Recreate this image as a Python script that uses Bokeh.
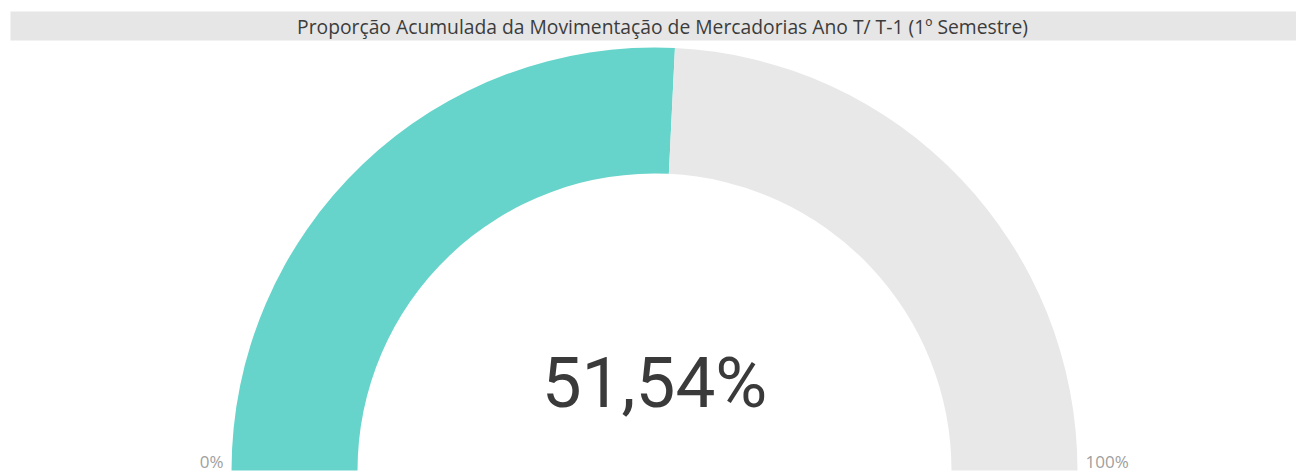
from bokeh.plotting import figure
from bokeh.models import ColumnDataSource, Range1d
from bokeh.core.properties import value
from bokeh.embed import file_html
from bokeh.resources import INLINE
import math

title_text = "Proporção Acumulada da Movimentação de Mercadorias Ano T/ T-1 (1º Semestre)"
gauge_value = [51.54]
gauge_min = [0]
gauge_max = [100]
value_label = ["51,54%"]
min_label = ["0%"]
max_label = ["100%"]

W, H = 1296, 472
p = figure(width=W, height=H, output_backend="svg", toolbar_location=None,
           x_range=Range1d(0, W), y_range=Range1d(0, H), min_border=0,
           background_fill_color="white", border_fill_color="white")
p.axis.visible = False
p.grid.visible = False
p.outline_line_color = None

# title bar
p.quad(left=[10], right=[W], bottom=[432], top=[461], fill_color="#E6E6E6", line_color=None)
p.text(x=[662], y=[446], text=[title_text], text_font=value("Open Sans"),
       text_font_size="19.3px", text_color="#3C3C3C", text_align="center", text_baseline="middle")

cx, cy = 654, 2
r_out, r_in = 423, 297
frac = (gauge_value[0] - gauge_min[0]) / (gauge_max[0] - gauge_min[0])
split = math.pi * (1 - frac)

src = ColumnDataSource(dict(start=[split, 0.0], end=[math.pi, split], color=["#67D4CB", "#E8E8E8"]))
p.annular_wedge(x=cx, y=cy, inner_radius=r_in, outer_radius=r_out,
                start_angle="start", end_angle="end", fill_color="color",
                line_color=None, source=src)

p.text(x=[cx], y=[90], text=value_label, text_font=value("Roboto"),
       text_font_size="71px", text_color="#3A3A3A", text_align="center", text_baseline="alphabetic")

p.text(x=[cx - r_out - 8], y=[0], text=min_label, text_font=value("Open Sans"),
       text_font_size="17px", text_color="#A0A0A0", text_align="right", text_baseline="bottom")
p.text(x=[cx + r_out + 8], y=[0], text=max_label, text_font=value("Open Sans"),
       text_font_size="17px", text_color="#A0A0A0", text_align="left", text_baseline="bottom")

open("out.html", "w").write(file_html(p, INLINE))
